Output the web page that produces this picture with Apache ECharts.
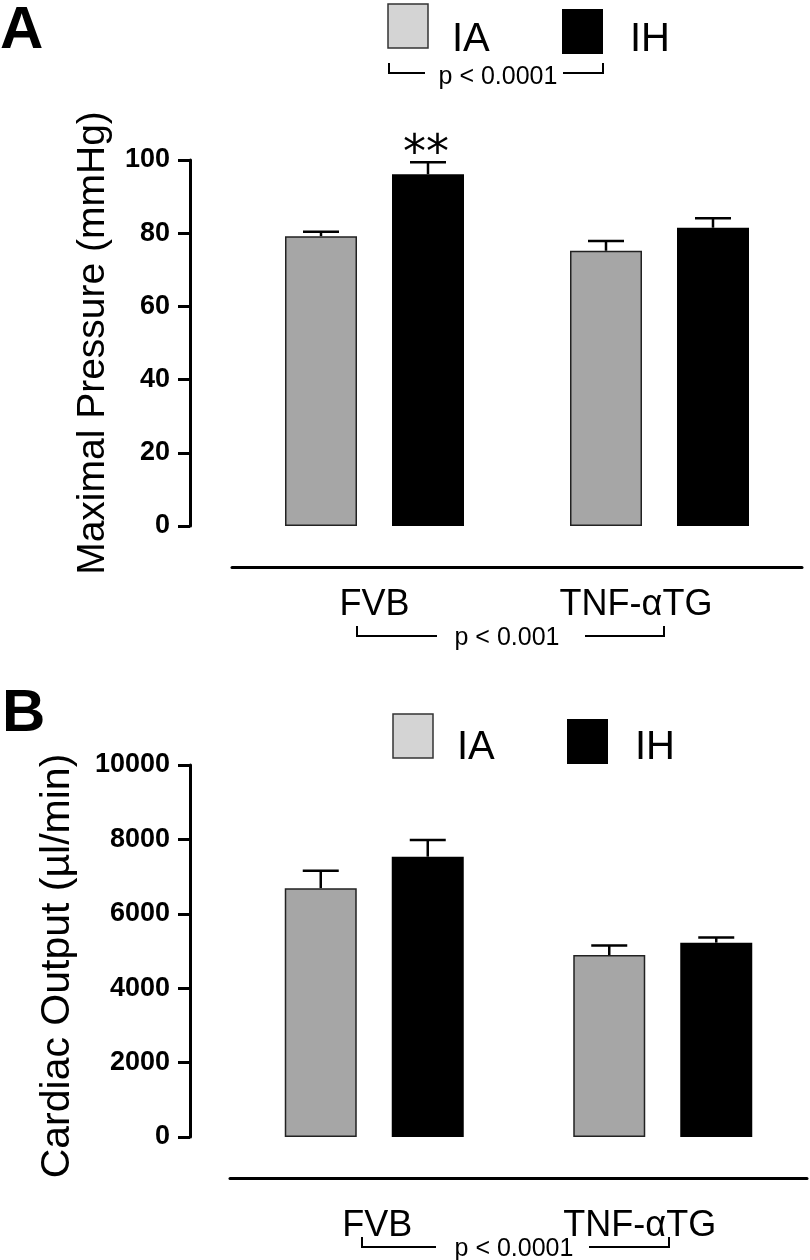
<!DOCTYPE html>
<html>
<head>
<meta charset="utf-8">
<script src="https://cdn.jsdelivr.net/npm/echarts@6/dist/echarts.min.js"></script>
<style>html,body{margin:0;padding:0;background:#fff}#c{width:810px;height:1260px}</style>
</head>
<body>
<div id="c"></div>
<script>
// ---- data ----
const categories = ['FVB', 'TNF-αTG'];
const seriesNames = ['IA', 'IH'];
const pressureIA = [79.2, 75.2];
const pressureIAErr = [1.2, 2.7];
const pressureIH = [96.1, 81.5];
const pressureIHErr = [3.3, 2.6];
const pressureIHMarks = ['**', ''];
const outputIA = [6690, 4890];
const outputIAErr = [470, 260];
const outputIH = [7535, 5225];
const outputIHErr = [450, 135];
const pressureTicks = { min: 0, max: 100, interval: 20 };
const outputTicks = { min: 0, max: 10000, interval: 2000 };
const pValues = ['p < 0.0001', 'p < 0.001', 'p < 0.0001'];
const panelLetters = ['A', 'B'];

// ---- style ----
const FONT = 'Liberation Sans';
const IA_COLOR = '#a6a6a6';
const IA_LEGEND = '#d4d4d4';
const BAR_W = 72, BAR_GAP = 35, HALF = (BAR_W + BAR_GAP) / 2;

function errData(vals, errs, side, marks) {
  return vals.map((v, i) => [i, v, errs[i], side, marks ? marks[i] : '']);
}

function errRender(params, api) {
  const cat = api.value(0), val = api.value(1), err = api.value(2), side = api.value(3);
  const mark = api.value(4);
  const base = api.coord([cat, val]);
  const top = api.coord([cat, val + err]);
  const x = base[0] + side * HALF;
  const st = { stroke: '#000', lineWidth: 2.5 };
  const children = [
    { type: 'line', shape: { x1: x, y1: base[1], x2: x, y2: top[1] }, style: st },
    { type: 'line', shape: { x1: x - 18, y1: top[1], x2: x + 18, y2: top[1] }, style: st }
  ];
  if (mark) {
    children.push({ type: 'text', style: { text: mark, x: x - 2, y: top[1] - 7, align: 'center', verticalAlign: 'middle',
      font: '46px "DejaVu Sans"', fill: '#000' } });
  }
  return { type: 'group', children };
}

function yAxisCfg(gi, ticks, name, gap, offset, pad, nameSize) {
  return {
    type: 'value', gridIndex: gi, min: ticks.min, max: ticks.max, interval: ticks.interval, offset: offset,
    name: name, nameLocation: 'middle', nameGap: gap,
    nameTextStyle: { fontFamily: FONT, fontSize: nameSize, color: '#000', padding: pad },
    axisLine: { show: true, lineStyle: { color: '#000', width: 3 } },
    axisTick: { show: true, length: 12, lineStyle: { color: '#000', width: 3 } },
    axisLabel: { fontFamily: FONT, fontWeight: 'bold', fontSize: 27, color: '#000', margin: 20,
      formatter: (v) => String(v) },
    splitLine: { show: false }
  };
}

function xAxisCfg(gi, margin, rich) {
  return {
    type: 'category', gridIndex: gi, data: categories, offset: 41,
    axisLine: { show: true, onZero: false, lineStyle: { color: '#000', width: 3 } },
    axisTick: { show: false },
    axisLabel: { margin: margin, formatter: (v, i) => '{c' + i + '|' + v + '}', rich: rich }
  };
}

const labStyle = { fontFamily: FONT, fontSize: 36, color: '#000' };

const chart = echarts.init(document.getElementById('c'), null, { renderer: 'canvas' });

// text helper: places text so its alphabetic baseline sits near `base`
function txt(s, x, base, size, weight, align) {
  return { type: 'text', style: { text: s, x: x, y: base + Math.round(0.19 * size), align: align || 'left', verticalAlign: 'bottom',
    font: (weight || '') + ' ' + size + 'px "' + FONT + '"', fill: '#000' } };
}

function legendGraphic(x, y, textBase) {
  return [
    { type: 'rect', shape: { x: x, y: y, width: 40, height: 44 }, style: { fill: IA_LEGEND, stroke: '#333', lineWidth: 1.5 } },
    txt(seriesNames[0], x + 64, textBase, 40),
    { type: 'rect', shape: { x: x + 174, y: y + 5, width: 41, height: 45 }, style: { fill: '#000' } },
    txt(seriesNames[1], x + 242, textBase, 40)
  ];
}

function bracket(xl, xr, y, tl, tr, text, tx, ty) {
  const ls = { stroke: '#000', lineWidth: 2, fill: null };
  return [
    { type: 'polyline', shape: { points: [[xl, y - 10], [xl, y], [tl, y]] }, style: ls },
    { type: 'polyline', shape: { points: [[tr, y], [xr, y], [xr, y - 10]] }, style: ls },
    { type: 'text', style: { text: text, x: tx, y: ty, align: 'center', verticalAlign: 'bottom', font: '25px "' + FONT + '"', fill: '#000' } }
  ];
}

const option = {
  backgroundColor: '#fff',
  animation: false,
  grid: [
    { left: 232, top: 160, width: 570, height: 366, outerBoundsMode: 'none' },
    { left: 230, top: 765, width: 577, height: 372, outerBoundsMode: 'none' }
  ],
  xAxis: [
    xAxisCfg(0, 20, { c0: Object.assign({}, labStyle), c1: Object.assign({ padding: [0, 47, 0, 0] }, labStyle) }),
    xAxisCfg(1, 30, { c0: Object.assign({ padding: [0, 0, 0, 6] }, labStyle), c1: Object.assign({ padding: [0, 46, 0, 0] }, labStyle) })
  ],
  yAxis: [
    yAxisCfg(0, pressureTicks, 'Maximal Pressure (mmHg)', 77, 42, [0, 0, 0, 0], 39),
    yAxisCfg(1, outputTicks, 'Cardiac Output (µl/min)', 112, 40, [0, 30, 0, 0], 41)
  ],
  series: [
    { name: seriesNames[0], type: 'bar', xAxisIndex: 0, yAxisIndex: 0, data: pressureIA, barWidth: BAR_W, barGap: (BAR_GAP / BAR_W * 100) + '%',
      itemStyle: { color: IA_COLOR, borderColor: '#222', borderWidth: 1.5 } },
    { name: seriesNames[1], type: 'bar', xAxisIndex: 0, yAxisIndex: 0, data: pressureIH, barWidth: BAR_W,
      itemStyle: { color: '#000' } },
    { name: seriesNames[0], type: 'bar', xAxisIndex: 1, yAxisIndex: 1, data: outputIA, barWidth: BAR_W, barGap: (BAR_GAP / BAR_W * 100) + '%',
      itemStyle: { color: IA_COLOR, borderColor: '#222', borderWidth: 1.5 } },
    { name: seriesNames[1], type: 'bar', xAxisIndex: 1, yAxisIndex: 1, data: outputIH, barWidth: BAR_W,
      itemStyle: { color: '#000' } },
    { type: 'custom', xAxisIndex: 0, yAxisIndex: 0, renderItem: errRender, z: 5,
      data: errData(pressureIA, pressureIAErr, -1).concat(errData(pressureIH, pressureIHErr, 1, pressureIHMarks)) },
    { type: 'custom', xAxisIndex: 1, yAxisIndex: 1, renderItem: errRender, z: 5,
      data: errData(outputIA, outputIAErr, -1).concat(errData(outputIH, outputIHErr, 1)) }
  ],
  graphic: [
    txt(panelLetters[0], 0, 50, 60, 'bold'),
    txt(panelLetters[1], 2, 733, 60, 'bold')
  ]
    .concat(legendGraphic(388, 4, 52))
    .concat(legendGraphic(393, 714, 760))
    .concat(bracket(389, 603, 73, 425, 563, pValues[0], 498, 90))
    .concat(bracket(357, 664, 636, 437, 585, pValues[1], 507, 651))
    .concat(bracket(362, 669, 1247, 436, 589, pValues[2], 514, 1262))
};
chart.setOption(option);
</script>
</body>
</html>
